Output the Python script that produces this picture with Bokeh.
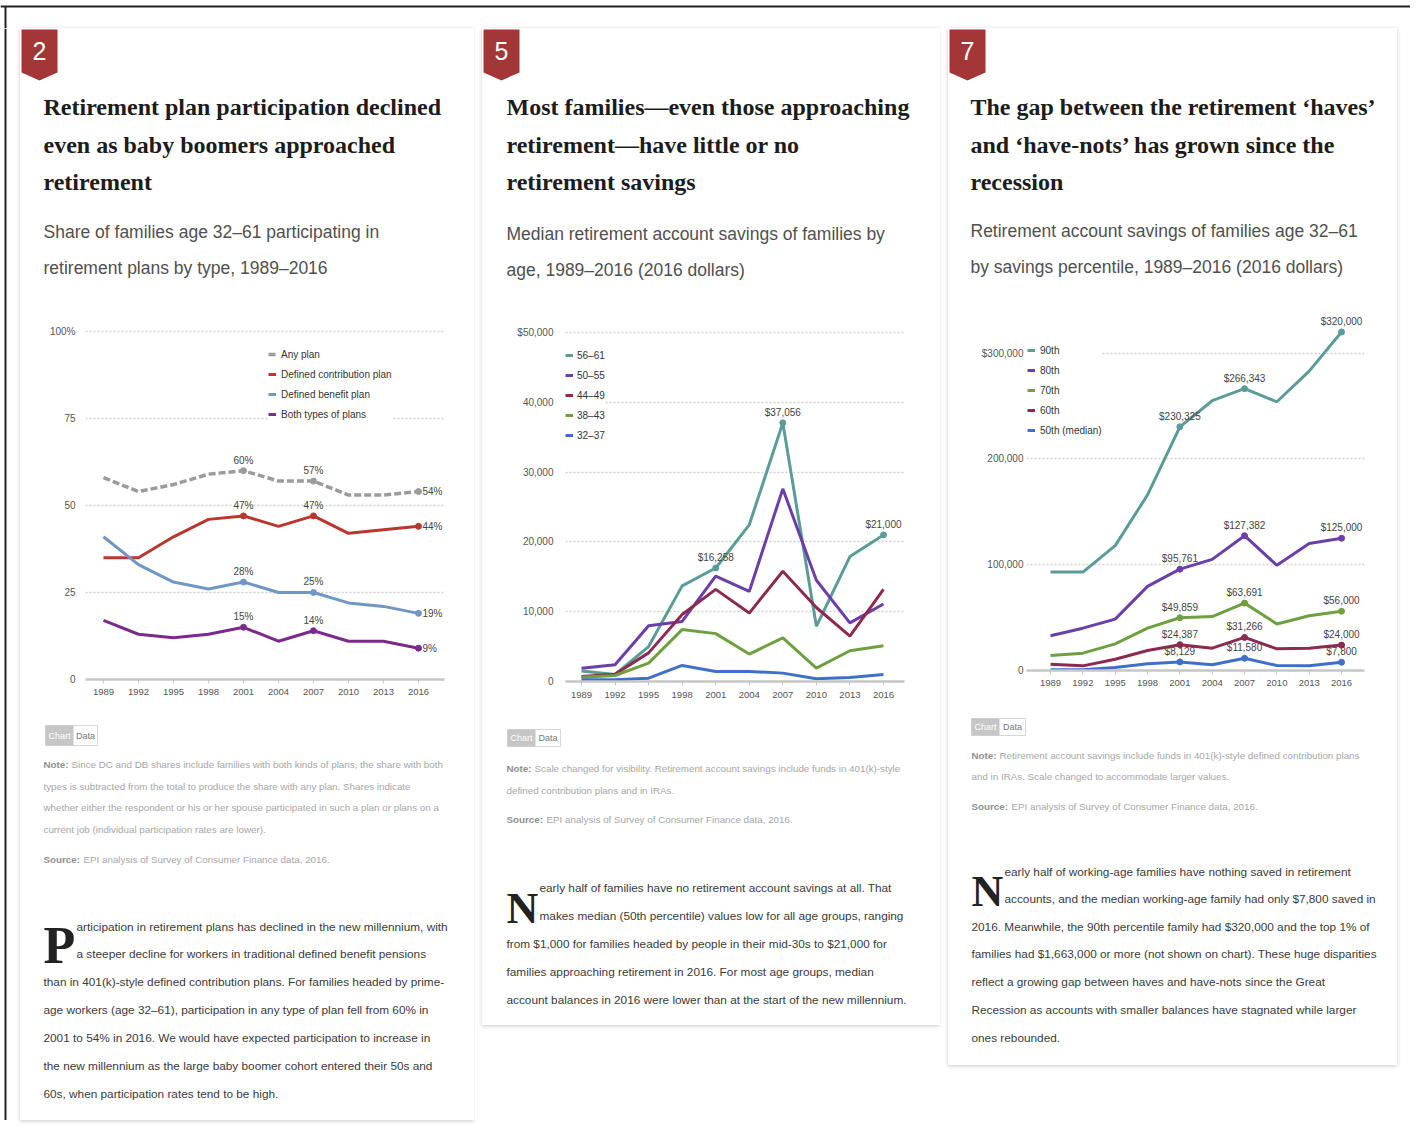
from bokeh.plotting import figure
from bokeh.models import Range1d, FixedTicker, LabelSet, ColumnDataSource
from bokeh.layouts import column, row
from bokeh.embed import file_html
from bokeh.resources import INLINE
from bokeh.core.properties import value

# ---------------- data ----------------
YEARS = [1989, 1992, 1995, 1998, 2001, 2004, 2007, 2010, 2013, 2016]

# Panel 1: share of families participating (%)
P1_NAMES = ["Any plan", "Defined contribution plan", "Defined benefit plan", "Both types of plans"]
p1_any = [58, 54, 56, 59, 60, 57, 57, 53, 53, 54]
p1_dc = [35, 35, 41, 46, 47, 44, 47, 42, 43, 44]
p1_db = [41, 33, 28, 26, 28, 25, 25, 22, 21, 19]
p1_both = [17, 13, 12, 13, 15, 11, 14, 11, 11, 9]
P1_YTICKS = [0, 25, 50, 75, 100]
P1_YLABELS = ["0", "25", "50", "75", "100%"]

# Panel 2: median savings by age (2016 $)
P2_NAMES = ["56–61", "50–55", "44–49", "38–43", "32–37"]
p2_5661 = [1500, 1000, 5000, 13700, 16258, 22450, 37056, 7900, 17900, 21000]
p2_5055 = [1900, 2400, 8000, 8600, 15100, 12900, 27600, 14500, 8400, 11100]
p2_4449 = [700, 1050, 4100, 9600, 13200, 9800, 15800, 10600, 6500, 13200]
p2_3843 = [600, 860, 2640, 7440, 6860, 3930, 6240, 1920, 4410, 5130]
p2_3237 = [240, 240, 480, 2300, 1440, 1440, 1200, 380, 580, 1000]
P2_YTICKS = [0, 10000, 20000, 30000, 40000, 50000]
P2_YLABELS = ["0", "10,000", "20,000", "30,000", "40,000", "$50,000"]

# Panel 3: savings by percentile (2016 $)
P3_NAMES = ["90th", "80th", "70th", "60th", "50th (median)"]
p3_90 = [93000, 93000, 118000, 166000, 230325, 255000, 266343, 254000, 283000, 320000]
p3_80 = [32800, 40000, 48600, 79500, 95761, 105000, 127382, 99400, 120000, 125000]
p3_70 = [14200, 16400, 25200, 40000, 49859, 51000, 63691, 44000, 51700, 56000]
p3_60 = [6000, 4400, 10700, 18900, 24387, 21100, 31266, 20500, 21100, 24000]
p3_50 = [600, 600, 2800, 6300, 8129, 5400, 11580, 4700, 4400, 7800]
P3_YTICKS = [0, 100000, 200000, 300000]
P3_YLABELS = ["0", "100,000", "200,000", "$300,000"]

LABEL_IDX = [4, 6, 9]  # 2001, 2007, 2016

# ---------------- styles ----------------
SANS = "Liberation Sans"
SERIF = "Liberation Serif"
BADGE = "#a33636"
TEAL, PURPLE, MAROON, GREEN, BLUE = "#5a9c98", "#6b3fa8", "#8c2a50", "#6fa040", "#3f70c8"
NOTE_FS = "9.8px"
BODY_FS = "11.8px"


def canvas(w, h):
    p = figure(width=w, height=h, x_range=Range1d(0, w), y_range=Range1d(h, 0),
               output_backend="svg", toolbar_location=None, min_border=0,
               x_axis_location=None, y_axis_location=None, frame_align=False)
    p.grid.visible = False
    p.outline_line_color = None
    p.background_fill_color = "white"
    p.border_fill_color = "white"
    return p


def header(w, h, num, title_lines, sub_lines, tx, title_base, sub_base):
    p = canvas(w, h)
    p.patch([1, 37, 37, 19, 1], [1, 1, 44, 52, 44], fill_color=BADGE, line_color=None)
    p.text(x=[19], y=[22], text=[num], text_font=value(SANS), text_font_size="25px",
           text_color="white", text_align="center", text_baseline="middle")
    p.text(x=[tx] * len(title_lines), y=title_base, text=title_lines, text_font=value(SERIF),
           text_font_style="bold", text_font_size="24px", text_color="#1c1c1c",
           text_baseline="alphabetic")
    p.text(x=[tx] * len(sub_lines), y=sub_base, text=sub_lines, text_font=value(SANS),
           text_font_size="17.5px", text_color="#505050", text_baseline="alphabetic")
    return p


def footer(w, h, tog, notes, note_base, src_base, tx, cap, cap_fs, cap_y, body, body_base, body_x):
    p = canvas(w, h)
    l, r, t, b = tog
    mid = l + 28
    p.quad(left=[l], right=[r], top=[t], bottom=[b], fill_color="white", line_color="#d6d6d6")
    p.quad(left=[l], right=[mid], top=[t], bottom=[b], fill_color="#c6c6c6", line_color=None)
    p.text(x=[(l + mid) / 2, (mid + r) / 2], y=[(t + b) / 2] * 2, text=["Chart", "Data"],
           text_color=["white", "#777777"], text_font=value(SANS), text_font_size="9px",
           text_align="center", text_baseline="middle")
    # note
    p.text(x=[tx], y=[note_base[0]], text=["Note:"], text_font=value(SANS), text_font_style="bold",
           text_font_size=NOTE_FS, text_color="#8f8f8f")
    p.text(x=[tx + 28] + [tx] * (len(notes) - 1), y=note_base, text=notes, text_font=value(SANS),
           text_font_size=NOTE_FS, text_color="#a6a6a6")
    p.text(x=[tx], y=[src_base], text=["Source:"], text_font=value(SANS), text_font_style="bold",
           text_font_size=NOTE_FS, text_color="#8f8f8f")
    p.text(x=[tx + 40], y=[src_base], text=["EPI analysis of Survey of Consumer Finance data, 2016."],
           text_font=value(SANS), text_font_size=NOTE_FS, text_color="#a6a6a6")
    # drop cap + body
    p.text(x=[tx], y=[cap_y], text=[cap], text_font=value(SERIF), text_font_style="bold",
           text_font_size=cap_fs, text_color="#222222")
    p.text(x=body_x, y=body_base, text=body, text_font=value(SANS), text_font_size=BODY_FS,
           text_color="#3a3a3a")
    return p


def chart(w, h, xr, yr, mb, yticks, ylabels, ystand, xstand):
    p = figure(width=w, height=h, x_range=Range1d(*xr), y_range=Range1d(*yr),
               output_backend="svg", toolbar_location=None, frame_align=False,
               min_border_left=mb[0], min_border_right=mb[1],
               min_border_top=mb[2], min_border_bottom=mb[3])
    p.outline_line_color = None
    p.background_fill_color = "white"
    p.border_fill_color = "white"
    p.xgrid.visible = False
    p.ygrid.ticker = FixedTicker(ticks=yticks)
    p.ygrid.grid_line_color = "#cfcfcf"
    p.ygrid.grid_line_dash = "2 2"
    p.ygrid.grid_line_width = 1.5
    p.yaxis.ticker = FixedTicker(ticks=yticks)
    p.yaxis.major_label_overrides = {t: s for t, s in zip(yticks, ylabels)}
    p.yaxis.axis_line_color = None
    p.yaxis.major_tick_line_color = None
    p.yaxis.minor_tick_line_color = None
    p.yaxis.major_tick_out = 0
    p.yaxis.major_label_standoff = ystand
    p.xaxis.ticker = FixedTicker(ticks=YEARS)
    p.xaxis.axis_line_color = "#c6c6c6"
    p.xaxis.axis_line_width = 2.5
    p.xaxis.major_tick_line_color = "#c6c6c6"
    p.xaxis.major_tick_out = 4
    p.xaxis.major_tick_in = 0
    p.xaxis.minor_tick_line_color = None
    p.xaxis.major_label_standoff = xstand
    p.xaxis.major_label_text_font_size = "9.5px"
    p.yaxis.major_label_text_font_size = "10px"
    for ax in (p.xaxis, p.yaxis):
        ax.major_label_text_font = SANS
        ax.major_label_text_color = "#555555"
    return p


def style_legend(p, loc, padding, standoff):
    lg = p.legend[0]
    lg.location = loc
    lg.padding = padding
    lg.margin = 0
    lg.spacing = 0
    lg.glyph_width = 8
    lg.glyph_height = 20
    lg.label_height = 20
    lg.label_standoff = standoff
    lg.label_text_font = SANS
    lg.label_text_font_size = "10px"
    lg.label_text_color = "#333333"
    lg.border_line_color = None
    lg.background_fill_color = "white"
    lg.background_fill_alpha = 1.0


def add_labels(p, xs, ys, texts, above=True):
    src = ColumnDataSource(dict(x=xs, y=ys, t=texts))
    if above:
        ls = LabelSet(x="x", y="y", text="t", source=src, y_offset=5, text_align="center",
                      text_baseline="bottom", text_font=value(SANS), text_font_size=value("10px"),
                      text_color=value("#444444"))
    else:
        ls = LabelSet(x="x", y="y", text="t", source=src, x_offset=4, text_align="left",
                      text_baseline="middle", text_font=value(SANS), text_font_size=value("10px"),
                      text_color=value("#444444"))
    p.add_layout(ls)


# ---------------- panel 1 ----------------
h1 = header(454, 292, "2",
            ["Retirement plan participation declined", "even as baby boomers approached", "retirement"],
            ["Share of families age 32–61 participating in", "retirement plans by type, 1989–2016"],
            23, [78, 116, 153], [203, 239])

c1 = chart(454, 392, (1987.46, 2018.23), (0, 101.7), (65, 30, 5, 33),
           P1_YTICKS, P1_YLABELS, 10, 5)
p1_series = [(p1_any, "#9b9b9b", "7 3"), (p1_dc, "#b8372f", "solid"),
             (p1_db, "#7096c3", "solid"), (p1_both, "#7b2a8c", "solid")]
for (vals, col, dash), name in zip(p1_series, P1_NAMES):
    c1.line(YEARS, vals, line_color=col, line_width=3.5 if dash != "solid" else 3,
            line_dash=dash, legend_label=name)
    c1.scatter([YEARS[i] for i in LABEL_IDX], [vals[i] for i in LABEL_IDX], size=6,
               fill_color=col, line_color=col)
    add_labels(c1, [YEARS[4], YEARS[6]], [vals[4], vals[6]], [f"{vals[4]}%", f"{vals[6]}%"], True)
    add_labels(c1, [YEARS[9]], [vals[9]], [f"{vals[9]}%"], False)
style_legend(c1, (183, 255), 6, 5)

f1 = footer(454, 408, (25, 77, 13, 33),
            ["Since DC and DB shares include families with both kinds of plans, the share with both",
             "types is subtracted from the total to produce the share with any plan. Shares indicate",
             "whether either the respondent or his or her spouse participated in such a plan or plans on a",
             "current job (individual participation rates are lower)."],
            [57, 79, 100, 122], 152, 23, "P", "52px", 261,
            ["articipation in retirement plans has declined in the new millennium, with",
             "a steeper decline for workers in traditional defined benefit pensions",
             "than in 401(k)-style defined contribution plans. For families headed by prime-",
             "age workers (age 32–61), participation in any type of plan fell from 60% in",
             "2001 to 54% in 2016. We would have expected participation to increase in",
             "the new millennium as the large baby boomer cohort entered their 50s and",
             "60s, when participation rates tend to be high."],
            [221, 248, 276, 304, 332, 360, 388], [56, 56, 23, 23, 23, 23, 23])

# ---------------- panel 2 ----------------
h2 = header(458, 294, "5",
            ["Most families—even those approaching", "retirement—have little or no", "retirement savings"],
            ["Median retirement account savings of families by", "age, 1989–2016 (2016 dollars)"],
            24, [78, 116, 153], [205, 241])

c2 = chart(458, 392, (1987.57, 2017.88), (0, 51003), (83, 36, 3, 33),
           P2_YTICKS, P2_YLABELS, 12, 6)
p2_series = [(p2_5661, TEAL), (p2_5055, PURPLE), (p2_4449, MAROON), (p2_3843, GREEN), (p2_3237, BLUE)]
for (vals, col), name in zip(p2_series, P2_NAMES):
    c2.line(YEARS, vals, line_color=col, line_width=3, legend_label=name)
c2.scatter([YEARS[i] for i in LABEL_IDX], [p2_5661[i] for i in LABEL_IDX], size=6,
           fill_color=TEAL, line_color=TEAL)
add_labels(c2, [YEARS[i] for i in LABEL_IDX], [p2_5661[i] for i in LABEL_IDX],
           [f"${p2_5661[i]:,}" for i in LABEL_IDX], True)
style_legend(c2, (0, 236), 0, 4)

f2 = footer(458, 311, (25, 78, 15, 32),
            ["Scale changed for visibility. Retirement account savings include funds in 401(k)-style",
             "defined contribution plans and in IRAs."],
            [59, 81], 110, 24, "N", "44px", 218,
            ["early half of families have no retirement account savings at all. That",
             "makes median (50th percentile) values low for all age groups, ranging",
             "from $1,000 for families headed by people in their mid-30s to $21,000 for",
             "families approaching retirement in 2016. For most age groups, median",
             "account balances in 2016 were lower than at the start of the new millennium."],
            [180, 208, 236, 264, 292], [57, 57, 24, 24, 24])

# ---------------- panel 3 ----------------
h3 = header(449, 280, "7",
            ["The gap between the retirement ‘haves’", "and ‘have-nots’ has grown since the", "recession"],
            ["Retirement account savings of families age 32–61", "by savings percentile, 1989–2016 (2016 dollars)"],
            22, [78, 116, 153], [202, 238])

c3 = chart(449, 392, (1986.77, 2018.13), (0, 340265), (78, 33, 2, 30),
           P3_YTICKS, P3_YLABELS, 3, 5)
p3_series = [(p3_90, TEAL), (p3_80, PURPLE), (p3_70, GREEN), (p3_60, MAROON), (p3_50, BLUE)]
for (vals, col), name in zip(p3_series, P3_NAMES):
    c3.line(YEARS, vals, line_color=col, line_width=3, legend_label=name)
    c3.scatter([YEARS[i] for i in LABEL_IDX], [vals[i] for i in LABEL_IDX], size=6,
               fill_color=col, line_color=col)
    add_labels(c3, [YEARS[i] for i in LABEL_IDX], [vals[i] for i in LABEL_IDX],
               [f"${vals[i]:,}" for i in LABEL_IDX], True)
style_legend(c3, (1, 230), 0, 5)

f3 = footer(449, 365, (23, 77, 18, 35),
            ["Retirement account savings include funds in 401(k)-style defined contribution plans",
             "and in IRAs. Scale changed to accommodate larger values."],
            [60, 81], 111, 23, "N", "44px", 215,
            ["early half of working-age families have nothing saved in retirement",
             "accounts, and the median working-age family had only $7,800 saved in",
             "2016. Meanwhile, the 90th percentile family had $320,000 and the top 1% of",
             "families had $1,663,000 or more (not shown on chart). These huge disparities",
             "reflect a growing gap between haves and have-nots since the Great",
             "Recession as accounts with smaller balances have stagnated while larger",
             "ones rebounded."],
            [178, 205, 233, 260, 288, 316, 344], [56, 56, 23, 23, 23, 23, 23])

# ---------------- page frame ----------------
top = canvas(1410, 28)
top.line([0, 1410], [6, 6], line_color="#222222", line_width=2)
top.line([5, 5], [6, 28], line_color="#222222", line_width=2)

left = canvas(20, 1092)
left.line([5, 5], [0, 1092], line_color="#222222", line_width=2)


def gap(h=1092):
    return canvas(8, h)


SHADOW = {"box-shadow": "0px 1px 4px rgba(0,0,0,0.22)"}
col1 = column(h1, c1, f1, styles=SHADOW)
col2 = column(h2, c2, f2, styles=SHADOW)
col3 = column(h3, c3, f3, styles=SHADOW)

page = column(top, row(left, col1, gap(), col2, gap(), col3))

open("out.html", "w").write(file_html(page, INLINE))
